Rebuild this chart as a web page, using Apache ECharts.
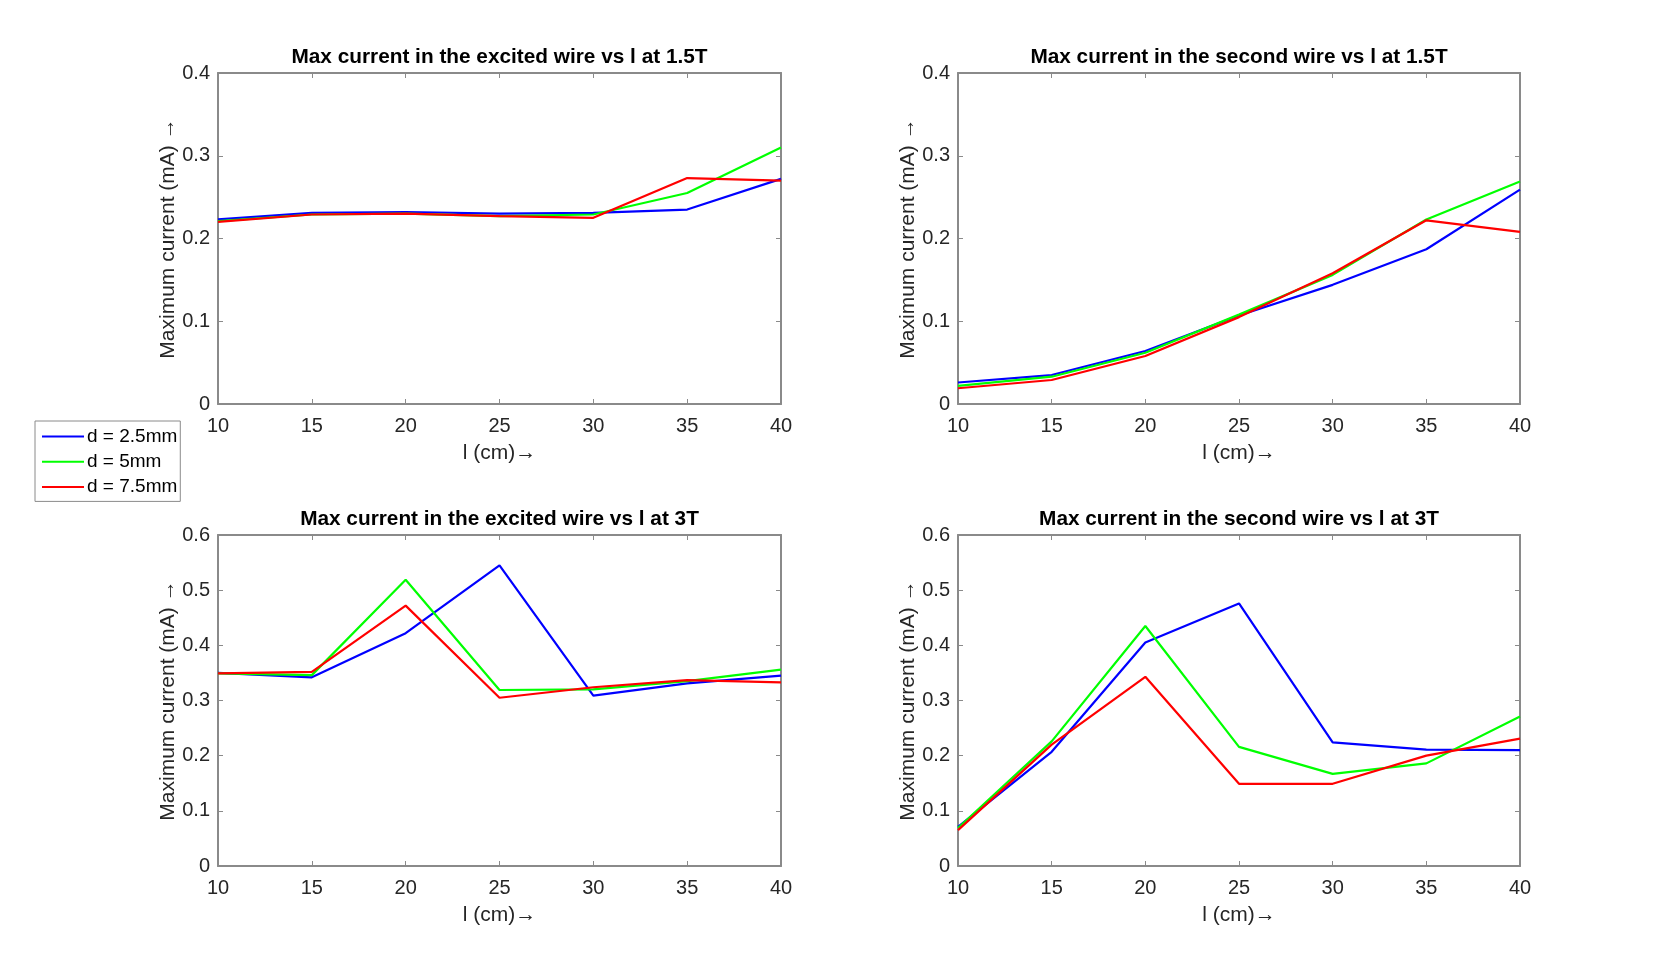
<!DOCTYPE html>
<html>
<head>
<meta charset="utf-8">
<script src="https://cdn.jsdelivr.net/npm/echarts@6/dist/echarts.min.js"></script>
<style>
html,body{margin:0;padding:0;background:#fff;}
#chart{width:1680px;height:974px;}
</style>
</head>
<body>
<div id="chart"></div>
<script>
// ---- data ----
var lengths = [10, 15, 20, 25, 30, 35, 40];
var seriesNames = ['d = 2.5mm', 'd = 5mm', 'd = 7.5mm'];
var seriesColors = ['#0000ff', '#00ff00', '#ff0000'];
var panelTitles = [
  'Max current in the excited wire vs l at 1.5T',
  'Max current in the second wire vs l at 1.5T',
  'Max current in the excited wire vs l at 3T',
  'Max current in the second wire vs l at 3T'
];
var yMaxes = [0.4, 0.4, 0.6, 0.6];

var excited15_d25 = [0.223, 0.231, 0.232, 0.230, 0.231, 0.235, 0.272];
var excited15_d5  = [0.221, 0.229, 0.230, 0.227, 0.229, 0.255, 0.310];
var excited15_d75 = [0.220, 0.229, 0.230, 0.227, 0.225, 0.273, 0.270];

var second15_d25 = [0.026, 0.035, 0.064, 0.107, 0.144, 0.187, 0.259];
var second15_d5  = [0.022, 0.033, 0.062, 0.108, 0.156, 0.223, 0.269];
var second15_d75 = [0.019, 0.029, 0.058, 0.105, 0.158, 0.222, 0.208];

var excited3_d25 = [0.350, 0.342, 0.422, 0.545, 0.309, 0.331, 0.345];
var excited3_d5  = [0.349, 0.346, 0.519, 0.319, 0.320, 0.335, 0.356];
var excited3_d75 = [0.349, 0.352, 0.472, 0.305, 0.324, 0.337, 0.333];

var second3_d25 = [0.071, 0.207, 0.405, 0.476, 0.224, 0.211, 0.210];
var second3_d5  = [0.069, 0.226, 0.435, 0.216, 0.167, 0.186, 0.271];
var second3_d75 = [0.065, 0.220, 0.343, 0.149, 0.149, 0.200, 0.231];

var panels = [
  [excited15_d25, excited15_d5, excited15_d75],
  [second15_d25, second15_d5, second15_d75],
  [excited3_d25, excited3_d5, excited3_d75],
  [second3_d25, second3_d5, second3_d75]
];

// ---- layout ----
var FONT = "'Liberation Sans', Arial, Helvetica, sans-serif";
var AX = '#8a8a8a';
var TXT = '#262626';
var grids = [
  {left: 218, top: 73, width: 563, height: 331},
  {left: 958, top: 73, width: 562, height: 331},
  {left: 218, top: 535, width: 563, height: 331},
  {left: 958, top: 535, width: 562, height: 331}
];

var xAxes = [], yAxes = [], series = [], titles = [];
grids.forEach(function (g, i) {
  xAxes.push({
    gridIndex: i, type: 'value', min: 10, max: 40, interval: 5, position: 'bottom',
    name: 'l (cm)\u2192', nameLocation: 'middle', nameGap: 39,
    nameTextStyle: {fontFamily: FONT, fontSize: 21, color: TXT},
    axisLine: {show: true, onZero: false, lineStyle: {color: AX, width: 2}},
    axisTick: {show: true, inside: true, length: 5, lineStyle: {color: AX, width: 1}},
    axisLabel: {fontFamily: FONT, fontSize: 20, color: TXT, margin: 12},
    splitLine: {show: false}
  });
  yAxes.push({
    gridIndex: i, type: 'value', min: 0, max: yMaxes[i], interval: 0.1, position: 'left',
    name: 'Maximum current (mA) \u2192', nameLocation: 'middle', nameGap: 39,
    nameTextStyle: {fontFamily: FONT, fontSize: 21, color: TXT},
    axisLine: {show: true, onZero: false, lineStyle: {color: AX, width: 2}},
    axisTick: {show: true, inside: true, length: 5, lineStyle: {color: AX, width: 1}},
    axisLabel: {fontFamily: FONT, fontSize: 20, color: TXT, margin: 8},
    splitLine: {show: false}
  });
  titles.push({
    text: panelTitles[i], left: g.left + g.width / 2, top: i >= 2 ? 509 : 47, textAlign: 'center', padding: 0,
    textStyle: {fontFamily: FONT, fontSize: 20.8, fontWeight: 'bold', color: '#000'}
  });
});
// secondary axes for the box
grids.forEach(function (g, i) {
  xAxes.push({
    gridIndex: i, type: 'value', min: 10, max: 40, interval: 5, position: 'top',
    axisLine: {show: true, onZero: false, lineStyle: {color: AX, width: 2}},
    axisTick: {show: true, inside: true, length: 5, lineStyle: {color: AX, width: 1}},
    axisLabel: {show: false}, splitLine: {show: false}
  });
  yAxes.push({
    gridIndex: i, type: 'value', min: 0, max: yMaxes[i], interval: 0.1, position: 'right',
    axisLine: {show: true, onZero: false, lineStyle: {color: AX, width: 2}},
    axisTick: {show: true, inside: true, length: 5, lineStyle: {color: AX, width: 1}},
    axisLabel: {show: false}, splitLine: {show: false}
  });
});

panels.forEach(function (p, i) {
  p.forEach(function (vals, k) {
    series.push({
      type: 'line', name: seriesNames[k], xAxisIndex: i, yAxisIndex: i,
      data: lengths.map(function (x, j) { return [x, vals[j]]; }),
      showSymbol: false, symbol: 'none', animation: false,
      lineStyle: {color: seriesColors[k], width: 2.2},
      itemStyle: {color: seriesColors[k]}
    });
  });
});

var chart = echarts.init(document.getElementById('chart'), null, {renderer: 'canvas'});
chart.setOption({
  backgroundColor: '#fff',
  animation: false,
  title: titles,
  grid: grids,
  xAxis: xAxes,
  yAxis: yAxes,
  legend: {
    data: seriesNames, orient: 'vertical', left: 35, top: 421,
    icon: 'rect', itemWidth: 42, itemHeight: 2, itemGap: 6.2,
    padding: [6, 3, 5, 7], borderColor: AX, borderWidth: 1, backgroundColor: '#fff',
    textStyle: {fontFamily: FONT, fontSize: 19, color: '#000', padding: [0, 0, 0, -2]}
  },
  series: series
});
</script>
</body>
</html>
